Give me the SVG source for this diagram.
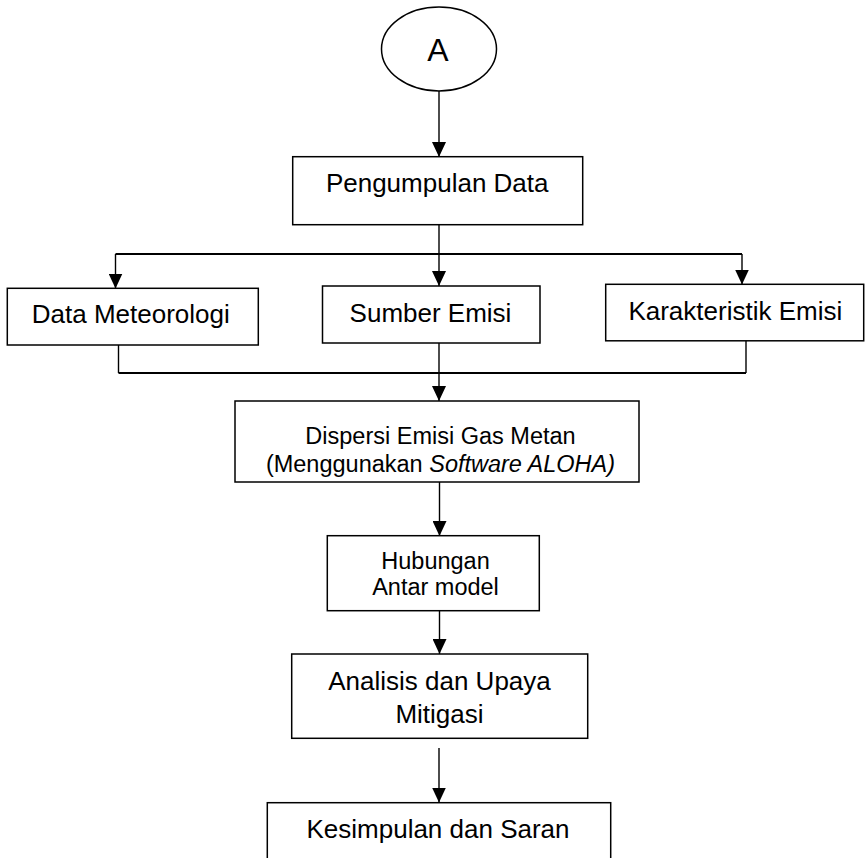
<svg xmlns="http://www.w3.org/2000/svg" width="865" height="858" viewBox="0 0 865 858">
<style>
  .box { fill: #ffffff; stroke: #000000; stroke-width: 1.5; }
  .t { font-family: "Liberation Sans", Arial, sans-serif; fill: #000000; text-anchor: middle; }
  .l { font-size: 26px; }
  .s { font-size: 23.5px; }
  .c { fill: none; stroke: #000000; stroke-width: 1.4; }
  .h { fill: none; stroke: #000000; stroke-width: 2; }
  .a { marker-end: url(#arr); }
</style>
<defs>
  <marker id="arr" markerUnits="userSpaceOnUse" markerWidth="15" markerHeight="14" refX="15" refY="7" orient="auto">
    <path d="M0,0 L15,7 L0,14 Z" fill="#000000"/>
  </marker>
</defs>
<rect width="865" height="858" fill="#ffffff"/>
<g id="connectors">
  <path class="c a" d="M439,91 V157"/>
  <path class="c" d="M439,225 V254"/>
  <path class="h" d="M115.5,254 H742"/>
  <path class="c a" d="M115.5,254 V288.5"/>
  <path class="c a" d="M439,254 V286"/>
  <path class="c a" d="M742,254 V284.5"/>
  <path class="c" d="M118.5,345 V373"/>
  <path class="c" d="M746,341 V373"/>
  <path class="h" d="M118.5,373 H746"/>
  <path class="c a" d="M439,343 V401"/>
  <path class="c a" d="M439.5,482 V536"/>
  <path class="c a" d="M439.5,611 V654"/>
  <path class="c a" d="M439,748 V802.5"/>
</g>
<g id="node-a">
  <ellipse cx="439" cy="49" rx="57.5" ry="42" fill="#ffffff" stroke="#000000" stroke-width="1.5"/>
  <text class="t" x="438" y="61" font-size="32">A</text>
</g>
<g id="node-pengumpulan">
  <rect class="box" x="292.7" y="156.7" width="290" height="68"/>
  <text class="t l" x="437.2" y="191.7">Pengumpulan Data</text>
</g>
<g id="node-meteorologi">
  <rect class="box" x="7.3" y="288.3" width="251" height="56.7"/>
  <text class="t l" x="130.8" y="323">Data Meteorologi</text>
</g>
<g id="node-sumber">
  <rect class="box" x="322.5" y="286" width="217.5" height="57"/>
  <text class="t l" x="430.5" y="321.7">Sumber Emisi</text>
</g>
<g id="node-karakteristik">
  <rect class="box" x="605.7" y="284.3" width="258" height="56.5"/>
  <text class="t l" x="735.3" y="320">Karakteristik Emisi</text>
</g>
<g id="node-dispersi">
  <rect class="box" x="235" y="401" width="404" height="81"/>
  <text class="t s" x="440.5" y="444">Dispersi Emisi Gas Metan</text>
  <text class="t s" x="440.5" y="471.7">(Menggunakan <tspan font-style="italic">Software ALOHA)</tspan></text>
</g>
<g id="node-hubungan">
  <rect class="box" x="327.3" y="535.7" width="212" height="75"/>
  <text class="t s" x="435.5" y="569.3">Hubungan</text>
  <text class="t s" x="435.5" y="595">Antar model</text>
</g>
<g id="node-analisis">
  <rect class="box" x="291.7" y="654" width="296" height="84.3"/>
  <text class="t l" x="439.5" y="690">Analisis dan Upaya</text>
  <text class="t l" x="439.5" y="723.3">Mitigasi</text>
</g>
<g id="node-kesimpulan">
  <rect class="box" x="267.3" y="802.7" width="343.4" height="80"/>
  <text class="t l" x="438" y="838.3">Kesimpulan dan Saran</text>
</g>
</svg>
